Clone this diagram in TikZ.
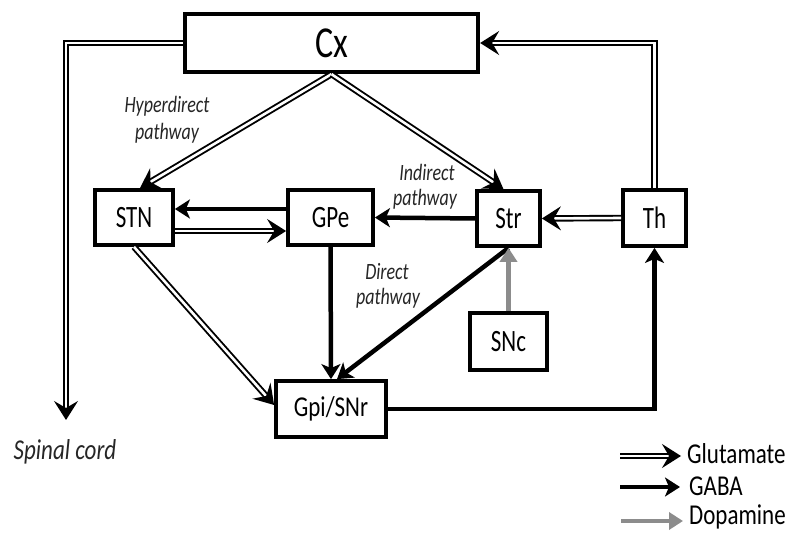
\documentclass[tikz,border=0pt]{standalone}
\usepackage{fontspec}
\setmainfont{Carlito}
\usepackage{graphicx}
\usetikzlibrary{arrows.meta}
\newcommand\vstr[2][1.3]{\scalebox{1}[#1]{#2}}
\begin{document}
\begin{tikzpicture}[x=1pt,y=-1pt,
  box/.style={draw, line width=3.8pt, inner sep=0pt, font=\fontsize{23}{23}\selectfont},
  glu/.style={draw=black, double=white, line width=1.9pt, double distance=2.6pt, -{Stealth[length=19pt,width=24pt,inset=7pt]}},
  gaba/.style={line width=4.5pt, -{Stealth[length=15pt,width=19pt,inset=4pt]}},
  dopa/.style={line width=4.5pt, draw=black!45, -{Triangle[length=14pt,width=17pt,fill=black!45]}},
  lab/.style={font=\fontsize{18}{18}\selectfont\itshape, text=black!85, inner sep=0pt},
  leg/.style={font=\fontsize{23}{23}\selectfont, anchor=west, inner sep=0pt}]
\fill[white] (0,0) rectangle (800,545);
\useasboundingbox (0,0) rectangle (800,545);
% boxes
\node[box, line width=4.3pt, minimum width=293pt, minimum height=58pt, font=\fontsize{34}{34}\selectfont] (Cx) at (331.5,43) {\vstr{Cx}};
\node[box, minimum width=78pt, minimum height=55pt] (STN) at (134,217.5) {\vstr[1.35]{STN}};
\node[box, minimum width=85pt, minimum height=55pt] (GPe) at (330.5,217.5) {\vstr[1.35]{GPe}};
\node[box, minimum width=63pt, minimum height=55pt] (Str) at (508.5,218.5) {\vstr[1.35]{Str}};
\node[box, minimum width=63pt, minimum height=56pt] (Th) at (654.5,218) {\vstr[1.35]{Th}};
\node[box, minimum width=77pt, minimum height=57pt] (SNc) at (508.5,341.5) {\vstr[1.35]{SNc}};
\node[box, minimum width=110pt, minimum height=56pt] (Gpi) at (331,409) {\vstr[1.25]{Gpi/SNr}};
\coordinate (sc) at (66,420);
% labels
\node[lab] (hyp1) at (167,106) {\vstr{Hyperdirect}};
\node[lab] (hyp2) at (167,133) {\vstr{pathway}};
\node[lab] (ind1) at (427,172) {\vstr{Indirect}};
\node[lab] (ind2) at (425,199) {\vstr{pathway}};
\node[lab] (dir1) at (387,272) {\vstr{Direct}};
\node[lab] (dir2) at (388,298) {\vstr{pathway}};
\node[lab, font=\fontsize{23}{23}\selectfont\itshape] (spc) at (65,452) {\vstr[1.25]{Spinal cord}};
% connectors
\draw[glu] (Cx.west) -| (sc);
\draw[glu] (Th.north) |- (Cx.east);
\draw[glu] (Cx.south) -- ([xshift=6pt]STN.north);
\draw[glu] (Cx.south) -- ([xshift=-5pt]Str.north);
\draw[gaba] ([yshift=8.5pt]GPe.west) -- ([yshift=8.5pt]STN.east);
\draw[glu] ([yshift=-13.5pt]STN.east) -- ([yshift=-13.5pt]GPe.west);
\draw[gaba] (Str.west) -- (GPe.east);
\draw[glu] (Th.west) -- (Str.east);
\draw[gaba] (GPe.south) -- (Gpi.north);
\draw[gaba] (Str.south) -- ([xshift=6pt]Gpi.north);
\draw[glu] (STN.south) -- ([yshift=4pt]Gpi.west);
\draw[dopa] (SNc.north) -- (Str.south);
\draw[gaba] (Gpi.east) -| (Th.south);
% legend
\coordinate (g1) at (620,456); \coordinate (g2) at (681,456);
\coordinate (a1) at (620,487); \coordinate (a2) at (680,487);
\coordinate (d1) at (621,521); \coordinate (d2) at (683,521);
\draw[glu] (g1) -- (g2);
\draw[gaba] (a1) -- (a2);
\draw[dopa] (d1) -- (d2);
\node[leg] (lglu) at (687,454) {\vstr[1.25]{Glutamate}};
\node[leg] (lgaba) at (689,486) {\vstr[1.25]{GABA}};
\node[leg] (ldopa) at (689,517) {\vstr[1.25]{Dopamine}};
\end{tikzpicture}
\end{document}
